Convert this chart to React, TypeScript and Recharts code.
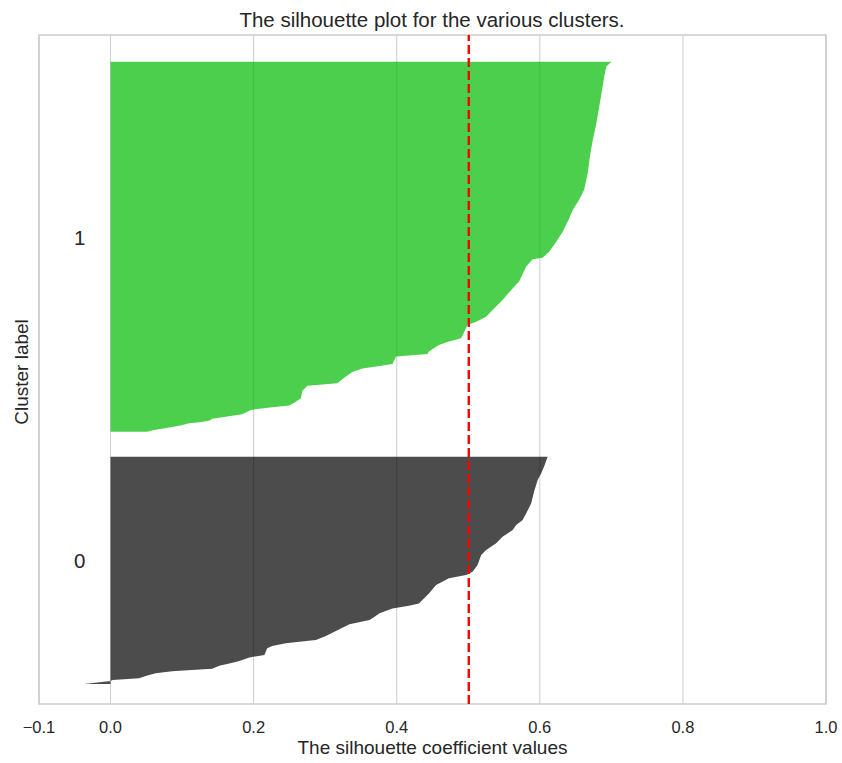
import React from 'react';
import {
  ComposedChart,
  Area,
  XAxis,
  YAxis,
  CartesianGrid,
  ReferenceLine,
  ReferenceArea,
  ReferenceDot,
} from 'recharts';

// Sample positions (y) and silhouette values (v)
const cluster0Y = [8.4, 9.6, 10.0, 10.8, 11.7, 12.9, 13.7, 14.2, 14.8, 16.0, 17.0, 18.0, 19.5, 20.5, 23.3, 24.3, 25.4, 26.1, 26.8, 28.5, 30.6, 33.4, 35.2, 36.5, 38.0, 40.0, 41.1, 42.1, 46.3, 49.8, 52.6, 54.0, 55.4, 58.2, 62.4, 64.5, 67.3, 70.0, 72.8, 74.9, 77.0, 79.8, 84.0, 88.9, 93.8, 96.6, 99.4, 103.5];
const cluster0V = [-0.037, 0.0, 0.003, 0.04, 0.049, 0.063, 0.086, 0.114, 0.142, 0.152, 0.166, 0.18, 0.194, 0.215, 0.219, 0.226, 0.245, 0.264, 0.287, 0.301, 0.315, 0.334, 0.362, 0.369, 0.376, 0.394, 0.417, 0.431, 0.445, 0.455, 0.473, 0.497, 0.506, 0.513, 0.518, 0.525, 0.539, 0.548, 0.562, 0.567, 0.576, 0.581, 0.588, 0.592, 0.597, 0.602, 0.606, 0.611];

const cluster1Y = [113.9, 114.7, 115.7, 116.5, 117.5, 117.9, 118.6, 119.4, 120.0, 121.3, 123.1, 123.6, 124.2, 124.9, 126.5, 128.0, 131.0, 133.2, 134.2, 136.6, 139.0, 140.4, 141.5, 142.3, 145.4, 146.5, 147.5, 150.3, 151.7, 153.1, 158.6, 160.0, 162.1, 164.9, 169.1, 173.3, 176.8, 183.1, 186.1, 186.8, 189.3, 193.5, 197.7, 202.6, 206.8, 211.0, 215.2, 222.1, 229.1, 236.1, 243.0, 250.0, 257.0, 262.6, 266.8, 268.8];
const cluster1V = [0.051, 0.061, 0.082, 0.096, 0.11, 0.124, 0.138, 0.142, 0.156, 0.184, 0.196, 0.208, 0.226, 0.25, 0.259, 0.266, 0.268, 0.275, 0.317, 0.327, 0.338, 0.352, 0.376, 0.394, 0.399, 0.443, 0.445, 0.459, 0.473, 0.49, 0.499, 0.511, 0.525, 0.534, 0.548, 0.56, 0.571, 0.581, 0.59, 0.604, 0.613, 0.623, 0.632, 0.64, 0.646, 0.655, 0.662, 0.667, 0.67, 0.674, 0.679, 0.683, 0.687, 0.69, 0.693, 0.7];

const clusterLabels = ['0', '1'];
const clusterLabelY = [60, 195];
const clusterColors = ['#000000', '#00bb00'];

const silhouetteAvg = 0.5007;
const xTicks = [-0.1, 0, 0.2, 0.4, 0.6, 0.8, 1.0];
const yDomain = [0, 280];

const title = 'The silhouette plot for the various clusters.';
const xLabel = 'The silhouette coefficient values';
const yLabel = 'Cluster label';

const data0 = cluster0Y.map((y, i) => ({ y, v: cluster0V[i] }));
const data1 = cluster1Y.map((y, i) => ({ y, v: cluster1V[i] }));
const clusterData = [data0, data1];

const FONT = '"Liberation Sans", Arial, sans-serif';
const TEXT = '#262626';

const fmt = (v: number) => (v < 0 ? '\u2212' + Math.abs(v).toFixed(1) : v.toFixed(1));

export default function App() {
  return (
    <div style={{ position: 'absolute', left: 0, top: 0, width: 842, height: 763, background: '#fff', fontFamily: FONT }}>
      <div style={{ position: 'absolute', left: 0, width: 864, top: 8, textAlign: 'center', fontSize: 20.5, color: TEXT, lineHeight: '24px' }}>
        {title}
      </div>
      <div style={{ position: 'absolute', left: 39, width: 787, top: 736, textAlign: 'center', fontSize: 19, color: TEXT, lineHeight: '24px' }}>
        {xLabel}
      </div>
      <div
        style={{
          position: 'absolute',
          left: 22,
          top: 372,
          transform: 'translate(-50%, -50%) rotate(-90deg)',
          fontSize: 19,
          color: TEXT,
          whiteSpace: 'nowrap',
          lineHeight: '24px',
        }}
      >
        {yLabel}
      </div>
      <ComposedChart
        width={842}
        height={763}
        layout="vertical"
        margin={{ top: 35, right: 16, bottom: 29, left: 39 }}
      >
        <CartesianGrid horizontal={false} stroke="#cccccc" strokeWidth={1} />
        <XAxis
          type="number"
          dataKey="v"
          domain={[-0.1, 1.0]}
          ticks={xTicks}
          interval={0}
          allowDataOverflow
          tickFormatter={fmt}
          tickLine={false}
          axisLine={false}
          height={30}
          tick={{ fontSize: 16.5, fill: TEXT, fontFamily: FONT }}
          tickMargin={11}
        />
        <YAxis type="number" dataKey="y" domain={yDomain} allowDataOverflow hide reversed />
        {clusterData.map((d, i) => (
          <Area
            key={i}
            data={d}
            dataKey="v"
            type="linear"
            baseValue={0}
            fill={clusterColors[i]}
            fillOpacity={0.7}
            stroke="none"
            isAnimationActive={false}
            dot={false}
            activeDot={false}
          />
        ))}
        {clusterLabels.map((lab, i) => (
          <ReferenceDot
            key={lab}
            x={-0.043}
            y={clusterLabelY[i]}
            r={0}
            fill="none"
            stroke="none"
            ifOverflow="visible"
            label={{ value: lab, position: 'center', fontSize: 20.5, fill: TEXT, fontFamily: FONT }}
          />
        ))}
        <ReferenceLine x={silhouetteAvg} stroke="#ff0000" strokeWidth={2.4} strokeDasharray="9 4" ifOverflow="visible" />
        <ReferenceArea x1={-0.1} x2={1.0} y1={0} y2={280} fill="none" stroke="#cccccc" strokeWidth={1.5} fillOpacity={0} ifOverflow="visible" />
      </ComposedChart>
    </div>
  );
}
